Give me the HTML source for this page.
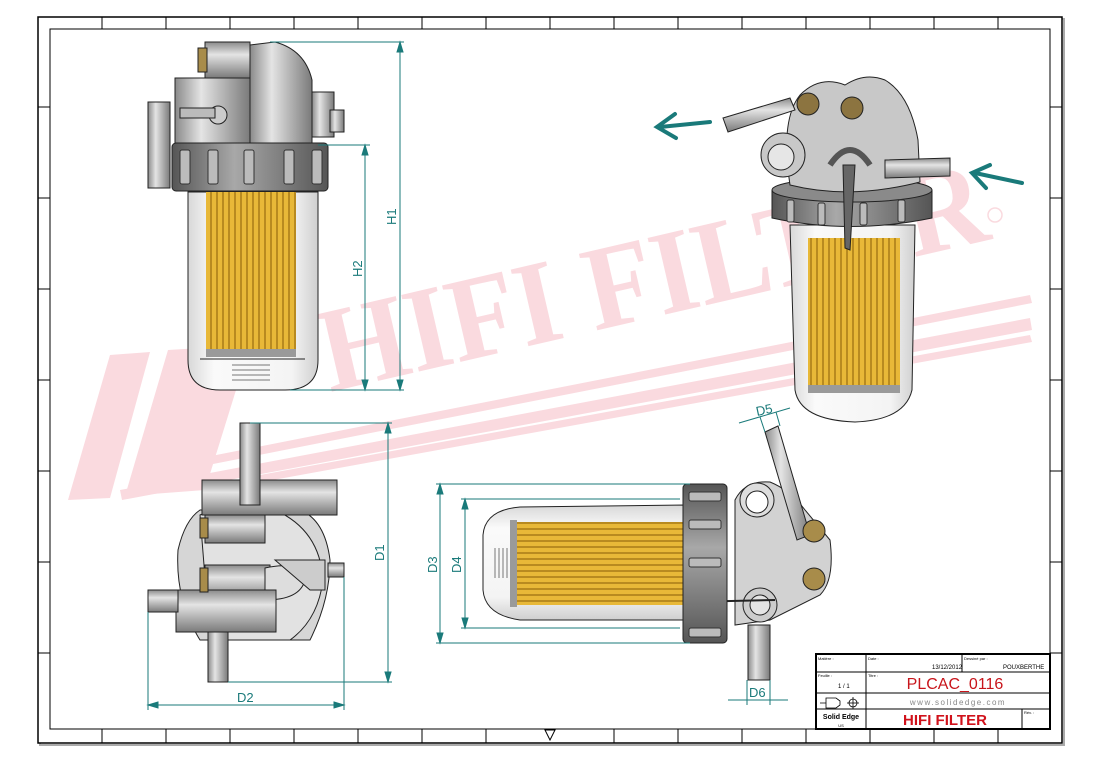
<!DOCTYPE html>
<html><head><meta charset="utf-8">
<style>
html,body{margin:0;padding:0;background:#fff;}
svg{display:block;font-family:"Liberation Sans",sans-serif;}
</style></head><body>
<svg width="1101" height="760" viewBox="0 0 1101 760" xmlns="http://www.w3.org/2000/svg">
<defs>
<linearGradient id="gv" x1="0" y1="0" x2="1" y2="0">
<stop offset="0" stop-color="#8a8a8a"/><stop offset="0.35" stop-color="#e4e4e4"/><stop offset="1" stop-color="#7a7a7a"/></linearGradient>
<linearGradient id="gh" x1="0" y1="0" x2="0" y2="1">
<stop offset="0" stop-color="#8a8a8a"/><stop offset="0.35" stop-color="#e4e4e4"/><stop offset="1" stop-color="#7a7a7a"/></linearGradient>
<linearGradient id="ring" x1="0" y1="0" x2="1" y2="0">
<stop offset="0" stop-color="#555"/><stop offset="0.4" stop-color="#a8a8a8"/><stop offset="1" stop-color="#555"/></linearGradient>
<linearGradient id="ringh" x1="0" y1="0" x2="0" y2="1">
<stop offset="0" stop-color="#555"/><stop offset="0.4" stop-color="#a8a8a8"/><stop offset="1" stop-color="#555"/></linearGradient>
<pattern id="pl" width="6" height="10" patternUnits="userSpaceOnUse">
<rect width="6" height="10" fill="#e8b838"/><rect width="2" height="10" fill="#b88a20"/></pattern>
<pattern id="ph" width="10" height="6" patternUnits="userSpaceOnUse">
<rect width="10" height="6" fill="#e8b838"/><rect width="10" height="2" fill="#b88a20"/></pattern>
<linearGradient id="glass" x1="0" y1="0" x2="1" y2="0">
<stop offset="0" stop-color="#d8d8d8"/><stop offset="0.2" stop-color="#fafafa"/><stop offset="0.8" stop-color="#f4f4f4"/><stop offset="1" stop-color="#cfcfcf"/></linearGradient>
<linearGradient id="glassh" x1="0" y1="0" x2="0" y2="1">
<stop offset="0" stop-color="#d8d8d8"/><stop offset="0.2" stop-color="#fafafa"/><stop offset="0.8" stop-color="#f4f4f4"/><stop offset="1" stop-color="#cfcfcf"/></linearGradient>
</defs>

<!-- frame -->
<rect x="40" y="19" width="1024" height="726" fill="none" stroke="#aaa" stroke-width="2"/>
<rect x="38" y="17" width="1024" height="726" fill="#fff" stroke="#000" stroke-width="1.5"/>
<rect x="50" y="29" width="1000" height="700" fill="none" stroke="#000" stroke-width="1"/>
<g stroke="#000" stroke-width="1">
<line x1="102" y1="17" x2="102" y2="29"/><line x1="166" y1="17" x2="166" y2="29"/><line x1="230" y1="17" x2="230" y2="29"/><line x1="294" y1="17" x2="294" y2="29"/><line x1="358" y1="17" x2="358" y2="29"/><line x1="422" y1="17" x2="422" y2="29"/><line x1="486" y1="17" x2="486" y2="29"/><line x1="550" y1="17" x2="550" y2="29"/><line x1="614" y1="17" x2="614" y2="29"/><line x1="678" y1="17" x2="678" y2="29"/><line x1="742" y1="17" x2="742" y2="29"/><line x1="806" y1="17" x2="806" y2="29"/><line x1="870" y1="17" x2="870" y2="29"/><line x1="934" y1="17" x2="934" y2="29"/><line x1="998" y1="17" x2="998" y2="29"/>
<line x1="102" y1="729" x2="102" y2="743"/><line x1="166" y1="729" x2="166" y2="743"/><line x1="230" y1="729" x2="230" y2="743"/><line x1="294" y1="729" x2="294" y2="743"/><line x1="358" y1="729" x2="358" y2="743"/><line x1="422" y1="729" x2="422" y2="743"/><line x1="486" y1="729" x2="486" y2="743"/><line x1="614" y1="729" x2="614" y2="743"/><line x1="678" y1="729" x2="678" y2="743"/><line x1="742" y1="729" x2="742" y2="743"/><line x1="806" y1="729" x2="806" y2="743"/><line x1="870" y1="729" x2="870" y2="743"/><line x1="934" y1="729" x2="934" y2="743"/><line x1="998" y1="729" x2="998" y2="743"/>
<line x1="38" y1="107" x2="50" y2="107"/><line x1="38" y1="198" x2="50" y2="198"/><line x1="38" y1="289" x2="50" y2="289"/><line x1="38" y1="380" x2="50" y2="380"/><line x1="38" y1="471" x2="50" y2="471"/><line x1="38" y1="562" x2="50" y2="562"/><line x1="38" y1="653" x2="50" y2="653"/>
<line x1="1050" y1="107" x2="1062" y2="107"/><line x1="1050" y1="198" x2="1062" y2="198"/><line x1="1050" y1="289" x2="1062" y2="289"/><line x1="1050" y1="380" x2="1062" y2="380"/><line x1="1050" y1="471" x2="1062" y2="471"/><line x1="1050" y1="562" x2="1062" y2="562"/><line x1="1050" y1="653" x2="1062" y2="653"/>
</g>
<path d="M545 730 L555 730 L550 740Z" fill="none" stroke="#000"/>

<!-- watermark -->
<g fill="#fadadf">
<polygon points="68,500 110,355 150,352 110,498"/>
<polygon points="125,496 168,350 250,345 205,490"/>
<polygon points="140,470 1030,295 1032,303 142,478"/>
<polygon points="120,490 1030,318 1032,330 122,500"/>
<polygon points="260,475 1030,335 1032,342 262,482"/>
<text x="0" y="0" font-family="Liberation Serif" font-weight="bold" font-size="120" textLength="680" lengthAdjust="spacingAndGlyphs" transform="translate(330,392) rotate(-13)">HIFI FILTER</text>
<circle cx="995" cy="215" r="7" fill="none" stroke="#fadadf" stroke-width="1.5"/>
</g>

<!-- ===== top-left view ===== -->
<g stroke="#222" stroke-width="1">
<path d="M188 192 L318 192 L318 360 Q318 390 285 390 L220 390 Q188 390 188 360Z" fill="url(#glass)"/>
<rect x="206" y="192" width="90" height="157" fill="url(#pl)" stroke="none"/>
<rect x="206" y="349" width="90" height="8" fill="#9a9a9a" stroke="none"/>
<line x1="200" y1="359" x2="305" y2="359"/>
<g stroke="#777"><line x1="232" y1="365" x2="270" y2="365"/><line x1="232" y1="370" x2="270" y2="370"/><line x1="232" y1="375" x2="270" y2="375"/><line x1="232" y1="380" x2="270" y2="380"/></g>
<rect x="172" y="143" width="156" height="48" rx="4" fill="url(#ring)"/>
<g fill="#bbb" stroke="#333"><rect x="180" y="150" width="10" height="34" rx="2"/><rect x="208" y="150" width="10" height="34" rx="2"/><rect x="244" y="150" width="10" height="34" rx="2"/><rect x="284" y="150" width="10" height="34" rx="2"/><rect x="312" y="150" width="10" height="34" rx="2"/></g>
<rect x="148" y="102" width="22" height="86" fill="url(#gv)"/>
<rect x="175" y="78" width="75" height="65" fill="url(#gv)"/>
<rect x="205" y="42" width="45" height="36" fill="url(#gh)"/>
<rect x="198" y="48" width="9" height="24" fill="#a88c4a"/>
<path d="M250 45 L275 42 Q305 50 312 80 L312 143 L250 143Z" fill="url(#gv)"/>
<rect x="312" y="92" width="22" height="45" fill="url(#gv)"/>
<rect x="330" y="110" width="14" height="22" fill="url(#gv)"/>
<circle cx="218" cy="115" r="9" fill="#ccc"/>
<rect x="180" y="108" width="35" height="10" fill="#bbb"/>
</g>
<g stroke="#1a7a7a" stroke-width="1" fill="#1a7a7a">
<line x1="270" y1="42" x2="404" y2="42"/><line x1="318" y1="145" x2="370" y2="145"/><line x1="290" y1="390" x2="404" y2="390"/>
<line x1="400" y1="42" x2="400" y2="390"/><line x1="365" y1="145" x2="365" y2="390"/>
<path d="M397 52 L400 42 L403 52Z"/><path d="M397 380 L400 390 L403 380Z"/>
<path d="M362 155 L365 145 L368 155Z"/><path d="M362 380 L365 390 L368 380Z"/>
</g>
<text x="0" y="0" font-size="13" fill="#1a7a7a" transform="translate(396,225) rotate(-90)">H1</text>
<text x="0" y="0" font-size="13" fill="#1a7a7a" transform="translate(362,277) rotate(-90)">H2</text>

<!-- ===== bottom-left view ===== -->
<g stroke="#222" stroke-width="1">
<path d="M200 510 Q185 520 178 550 Q175 600 200 640 L310 640 Q330 600 330 560 Q325 520 300 510Z" fill="#d6d6d6"/>
<path d="M200 515 Q220 505 275 510 Q320 530 323 580 Q318 620 290 640 L210 640 Z" fill="#e2e2e2"/>
<rect x="202" y="480" width="135" height="35" fill="url(#gh)"/>
<rect x="240" y="423" width="20" height="82" fill="url(#gv)"/>
<rect x="205" y="515" width="60" height="28" fill="url(#gh)"/>
<rect x="200" y="518" width="8" height="20" fill="#a88c4a"/>
<rect x="205" y="565" width="65" height="35" fill="url(#gh)"/>
<path d="M265 568 Q300 560 305 580 Q300 600 265 600Z" fill="#ddd"/>
<rect x="176" y="590" width="100" height="42" fill="url(#gh)"/>
<rect x="200" y="568" width="8" height="24" fill="#a88c4a"/>
<rect x="148" y="590" width="30" height="22" fill="url(#gh)"/>
<rect x="328" y="563" width="16" height="14" fill="url(#gh)"/>
<rect x="208" y="632" width="20" height="50" fill="url(#gv)"/>
<path d="M275 560 L325 560 L325 590 L310 590Z" fill="#ccc"/>
</g>
<g stroke="#1a7a7a" stroke-width="1" fill="#1a7a7a">
<line x1="250" y1="423" x2="392" y2="423"/><line x1="228" y1="682" x2="392" y2="682"/>
<line x1="388" y1="423" x2="388" y2="682"/>
<path d="M385 433 L388 423 L391 433Z"/><path d="M385 672 L388 682 L391 672Z"/>
<line x1="148" y1="612" x2="148" y2="710"/><line x1="344" y1="577" x2="344" y2="710"/>
<line x1="148" y1="705" x2="344" y2="705"/>
<path d="M158 702 L148 705 L158 708Z"/><path d="M334 702 L344 705 L334 708Z"/>
</g>
<text x="0" y="0" font-size="13" fill="#1a7a7a" transform="translate(384,561) rotate(-90)">D1</text>
<text x="237" y="702" font-size="13" fill="#1a7a7a">D2</text>

<!-- ===== bottom-right view ===== -->
<g stroke="#222" stroke-width="1">
<path d="M685 505 L685 620 L520 620 Q485 615 483 590 L483 535 Q485 510 520 507Z" fill="url(#glassh)"/>
<rect x="515" y="522" width="168" height="83" fill="url(#ph)" stroke="none"/>
<rect x="510" y="520" width="7" height="87" fill="#9a9a9a" stroke="none"/>
<g stroke="#777"><line x1="495" y1="548" x2="495" y2="578"/><line x1="499" y1="548" x2="499" y2="578"/><line x1="503" y1="548" x2="503" y2="578"/><line x1="507" y1="548" x2="507" y2="578"/></g>
<path d="M735 500 Q745 480 770 482 Q790 490 805 510 L830 540 Q835 580 820 595 L770 620 L735 625Z" fill="#d2d2d2"/>
<circle cx="757" cy="500" r="17" fill="#ddd"/><circle cx="757" cy="502" r="11" fill="#fff"/>
<path d="M765 432 L778 426 L810 535 L797 540Z" fill="url(#gv)"/>
<g fill="#a88c4a"><circle cx="814" cy="531" r="11"/><circle cx="814" cy="579" r="11"/></g>
<circle cx="760" cy="605" r="17" fill="#ccc"/><circle cx="760" cy="605" r="10" fill="#e4e4e4"/>
<line x1="688" y1="602" x2="775" y2="600" stroke-width="2"/>
<rect x="748" y="625" width="22" height="55" fill="url(#gv)"/>
<rect x="683" y="484" width="44" height="159" rx="4" fill="url(#ringh)"/>
<g fill="#bbb" stroke="#333"><rect x="689" y="492" width="32" height="9" rx="2"/><rect x="689" y="520" width="32" height="9" rx="2"/><rect x="689" y="558" width="32" height="9" rx="2"/><rect x="689" y="628" width="32" height="9" rx="2"/></g>
</g>
<g stroke="#1a7a7a" stroke-width="1" fill="#1a7a7a">
<line x1="436" y1="484" x2="690" y2="484"/><line x1="436" y1="643" x2="690" y2="643"/>
<line x1="440" y1="484" x2="440" y2="643"/>
<path d="M437 494 L440 484 L443 494Z"/><path d="M437 633 L440 643 L443 633Z"/>
<line x1="461" y1="499" x2="680" y2="499"/><line x1="461" y1="628" x2="680" y2="628"/>
<line x1="465" y1="499" x2="465" y2="628"/>
<path d="M462 509 L465 499 L468 509Z"/><path d="M462 618 L465 628 L468 618Z"/>
<line x1="739" y1="423" x2="790" y2="408"/>
<line x1="760" y1="417" x2="765" y2="432"/><line x1="776" y1="412" x2="780" y2="426"/>
<line x1="747" y1="680" x2="747" y2="705"/><line x1="770" y1="680" x2="770" y2="705"/>
<line x1="728" y1="700" x2="788" y2="700"/>
</g>
<text x="0" y="0" font-size="13" fill="#1a7a7a" transform="translate(437,573) rotate(-90)">D3</text>
<text x="0" y="0" font-size="13" fill="#1a7a7a" transform="translate(461,573) rotate(-90)">D4</text>
<text x="0" y="0" font-size="13" fill="#1a7a7a" transform="translate(757,416) rotate(-12)">D5</text>
<text x="749" y="697" font-size="13" fill="#1a7a7a">D6</text>

<!-- ===== top-right iso view ===== -->
<g stroke="#222" stroke-width="1">
<path d="M790 225 L915 225 L912 390 Q905 420 855 422 Q800 420 795 390Z" fill="url(#glass)"/>
<rect x="808" y="238" width="92" height="150" fill="url(#pl)" stroke="none"/>
<rect x="808" y="385" width="92" height="8" fill="#9a9a9a" stroke="none"/>
<path d="M772 190 L932 190 L932 218 Q850 235 772 218Z" fill="url(#ring)"/>
<ellipse cx="852" cy="190" rx="80" ry="12" fill="#8a8a8a"/>
<g fill="#bbb" stroke="#333"><rect x="787" y="200" width="7" height="22" rx="2"/><rect x="818" y="203" width="7" height="22" rx="2"/><rect x="860" y="203" width="7" height="22" rx="2"/><rect x="898" y="200" width="7" height="22" rx="2"/></g>
<path d="M790 185 Q780 120 800 95 Q820 75 845 85 Q865 72 885 80 Q910 95 918 140 L920 182 Q850 200 790 185Z" fill="#c8c8c8"/>
<path d="M723 118 L790 98 L795 110 L728 132Z" fill="url(#gh)"/>
<circle cx="783" cy="155" r="22" fill="#c8c8c8"/><circle cx="781" cy="157" r="13" fill="#e6e6e6"/>
<g fill="#8c7440"><circle cx="808" cy="104" r="11"/><circle cx="852" cy="108" r="11"/></g>
<path d="M830 165 Q850 135 870 165" fill="none" stroke="#555" stroke-width="6"/>
<path d="M843 165 L855 165 L850 250 L845 248Z" fill="#666"/>
<path d="M885 160 L950 158 L950 176 L885 178Z" fill="url(#gh)"/>
</g>
<g stroke="#1a7a7a" stroke-width="4" fill="none" stroke-linecap="round">
<path d="M710 122 L660 127"/><path d="M675 114 L657 127 L676 138"/>
<path d="M1022 183 L975 173"/><path d="M990 165 L972 173 L986 188"/>
</g>

<!-- title block -->
<g stroke="#000" fill="none">
<rect x="816" y="654" width="234" height="75" stroke-width="2" fill="#fff"/>
<line x1="866" y1="654" x2="866" y2="729"/>
<line x1="816" y1="672" x2="1050" y2="672"/>
<line x1="816" y1="693" x2="1050" y2="693"/>
<line x1="816" y1="709" x2="1050" y2="709"/>
<line x1="962" y1="654" x2="962" y2="672"/>
<line x1="1022" y1="709" x2="1022" y2="729"/>
</g>
<g font-size="4" fill="#000"><text x="818" y="660">Matière :</text><text x="868" y="660">Date :</text><text x="964" y="660">Dessiné par :</text><text x="818" y="677">Feuille :</text><text x="868" y="677">Titre :</text><text x="1024" y="714">Rév. :</text></g>
<text x="932" y="669" font-size="6" fill="#000">13/12/2012</text>
<text x="1003" y="669" font-size="6" fill="#000">POUXBERTHE</text>
<text x="838" y="688" font-size="6" fill="#000">1 / 1</text>
<text x="955" y="689" font-size="16" fill="#c8151b" text-anchor="middle">PLCAC_0116</text>
<text x="958" y="705" font-size="8" fill="#888" text-anchor="middle" letter-spacing="1.5">www.solidedge.com</text>
<text x="945" y="725" font-size="15" font-weight="bold" fill="#d0121b" text-anchor="middle">HIFI FILTER</text>
<text x="841" y="719" font-size="7" font-weight="bold" fill="#000" text-anchor="middle">Solid Edge</text>
<text x="841" y="727" font-size="4" fill="#000" text-anchor="middle">US</text>
<path d="M826 698 L836 698 L840 701 L840 705 L836 708 L826 708Z M820 703 L826 703" fill="none" stroke="#000" stroke-width="0.8"/>
<circle cx="853" cy="703" r="4" fill="none" stroke="#000" stroke-width="0.8"/><line x1="847" y1="703" x2="859" y2="703" stroke="#000" stroke-width="0.8"/><line x1="853" y1="697" x2="853" y2="709" stroke="#000" stroke-width="0.8"/>
</svg>
</body></html>
